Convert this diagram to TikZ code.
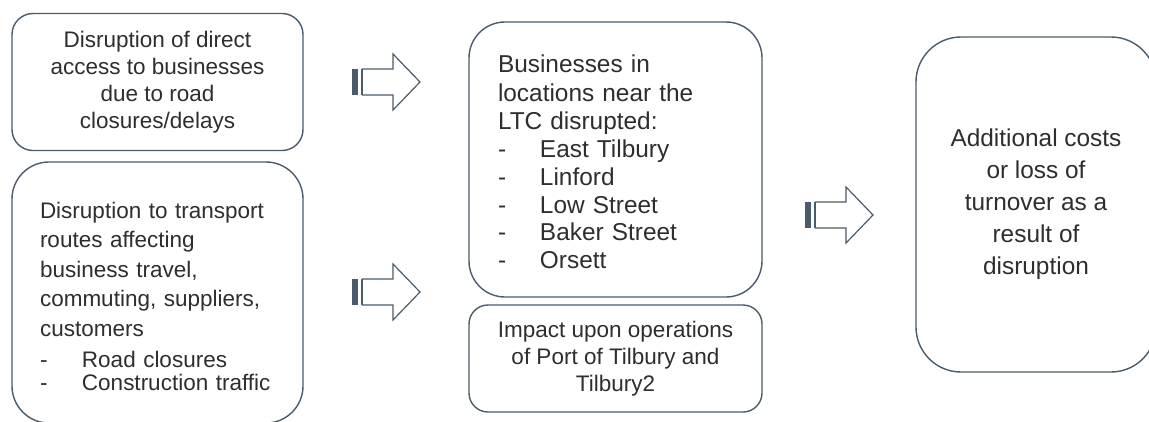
\documentclass[tikz,border=0pt]{standalone}
\usepackage{fontspec}
\setmainfont{Liberation Sans}
\usepackage{xcolor}
\usetikzlibrary{positioning}
\definecolor{boxline}{HTML}{4A5B6B}
\definecolor{textgrey}{HTML}{2E2E2E}
\newcommand{\dashitem}[1]{\makebox[42pt][l]{-}#1}
\tikzset{
  flowbox/.style={
    draw=boxline, line width=1.4pt, text=textgrey, fill=white,
    inner sep=0pt, font=\fontsize{22.5}{27}\selectfont
  },
  centrebox/.style={flowbox, align=center},
  listbox/.style={flowbox, align=left, text width=235pt},
  bigtext/.style={font=\fontsize{24.4}{28.5}\selectfont},
  blockarrow/.pic={
    \fill[boxline] (0,-13) rectangle (6,13);
    \fill[boxline] (8.5,-13) rectangle (10.5,13);
    \draw[boxline, line width=1.2pt, line join=miter]
      (10,-13) -- (41,-13) -- (41,-28) -- (68,0) -- (41,28) -- (41,13) -- (10,13);
  },
}
\begin{document}
\begin{tikzpicture}[x=1pt, y=-1pt]
  \useasboundingbox (0,0) rectangle (1149,421);
  % causes
  \node[centrebox, rounded corners=21pt, minimum width=291pt, minimum height=137pt] (access) at (157.5,82)
    {Disruption of direct\\access to businesses\\due to road\\closures/delays};
  \node[listbox, rounded corners=37pt, minimum width=291pt, minimum height=261pt,
        font=\fontsize{22.5}{29.5}\selectfont] (routes) at (157.5,292.5)
    {\rule{0pt}{24pt}Disruption to transport\\routes affecting\\business travel,\\commuting, suppliers,\\customers\\[1.5pt]
     \dashitem{Road closures}\\[-6.5pt]\dashitem{Construction traffic}};
  % affected businesses
  \node[listbox, bigtext, rounded corners=36pt, minimum width=293pt, minimum height=275pt] (local) at (615.5,159.5)
    {\rule{0pt}{22pt}Businesses in\\locations near the\\LTC disrupted:\\[-0.5pt]
     \dashitem{East Tilbury}\\[-0.5pt]\dashitem{Linford}\\[-1pt]\dashitem{Low Street}\\[-1pt]\dashitem{Baker Street}\\[-1pt]\dashitem{Orsett}};
  \node[centrebox, rounded corners=19pt, minimum width=293pt, minimum height=107pt] (port) at (615.5,358.5)
    {Impact upon operations\\of Port of Tilbury and\\Tilbury2};
  % outcome
  \node[centrebox, rounded corners=45pt, minimum width=240pt, minimum height=335pt,
        font=\fontsize{24.4}{32}\selectfont] (costs) at (1036,204.5)
    {Additional costs\\or loss of\\turnover as a\\result of\\disruption};
  % block arrows
  \pic at (352,82) {blockarrow};
  \pic at (352,292) {blockarrow};
  \pic at (805,215) {blockarrow};
\end{tikzpicture}
\end{document}
